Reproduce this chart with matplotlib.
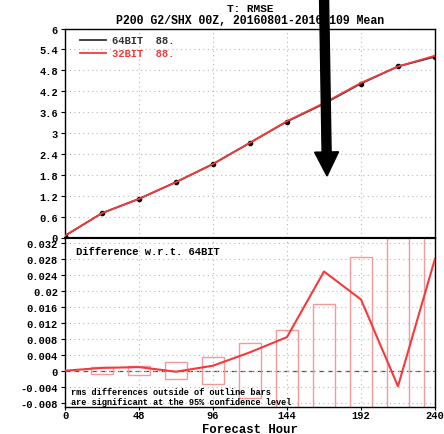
import numpy as np
import matplotlib
matplotlib.use('Agg')
import matplotlib.pyplot as plt
import matplotlib.transforms as mtransforms
from matplotlib.patches import FancyArrow

plt.rcParams['font.family'] = ['Liberation Mono', 'DejaVu Sans Mono']
plt.rcParams['font.weight'] = 'bold'

# forecast hours
hours = [0, 24, 48, 72, 96, 120, 144, 168, 192, 216, 240]

# RMSE, top panel
rmse_64 = [0.05, 0.70, 1.11, 1.59, 2.11, 2.72, 3.33, 3.84, 4.42, 4.91, 5.19]
rmse_32 = [0.05, 0.70, 1.11, 1.59, 2.11, 2.72, 3.34, 3.86, 4.44, 4.91, 5.22]

# difference 32BIT - 64BIT, bottom panel
diff_32 = [0.0, 0.0007, 0.0009, -0.00025, 0.00125, 0.0046, 0.0084, 0.0248, 0.0178, -0.0039, 0.028]
# 95% significance half-widths for outline bars
bar_hours = [24, 48, 72, 96, 120, 144, 168, 192, 216, 240]
bar_half = [0.00085, 0.0011, 0.0021, 0.0034, 0.0069, 0.0102, 0.0167, 0.0284, 0.0331, 0.0331]

legend_names = ['64BIT', '32BIT']
legend_counts = ['88.', '88.']

W, H = 444, 435
fig = plt.figure(figsize=(W / 100, H / 100), dpi=100)

left, right = 65 / W, 435 / W
ax1 = fig.add_axes([left, 1 - 238.5 / H, right - left, 209 / H])
ax2 = fig.add_axes([left, 1 - 407.7 / H, right - left, 169.2 / H])

grid_kw = dict(color='#b8b8b8', linestyle=(0, (1, 3)), linewidth=0.8)
red = '#f43a3a'

# top panel
ax1.plot(hours, rmse_64, color='#303030', lw=1.3, marker='o', ms=3, mfc='black', mec='black', zorder=3)
ax1.plot(hours, rmse_32, color=red, lw=1.3, zorder=4)
ax1.set_xlim(0, 240)
ax1.set_ylim(0, 6)
ax1.set_yticks(np.arange(0, 6.01, 0.6))
ax1.set_yticklabels(['0', '0.6', '1.2', '1.8', '2.4', '3', '3.6', '4.2', '4.8', '5.4', '6'])
ax1.set_xticks([0, 48, 96, 144, 192, 240])
ax1.tick_params(axis='x', length=0, labelbottom=False)
ax1.grid(True, **grid_kw)

# legend by hand
for i, (name, cnt, col) in enumerate(zip(legend_names, legend_counts, ['#303030', red])):
    y = 0.945 - i * 0.062
    ax1.plot([0.04, 0.112], [y, y], transform=ax1.transAxes, color=col, lw=1.3, clip_on=False)
    ax1.text(0.128, y, name + '  ' + cnt, transform=ax1.transAxes, color=col,
             fontsize=7.6, va='center', ha='left')

cx = (65 + 435) / 2 / W
fig.text(cx, 1 - 9 / H, 'T: RMSE', fontsize=8, ha='center', va='center')
fig.text(cx, 1 - 21.5 / H, 'P200 G2/SHX 00Z, 20160801-20161109 Mean', fontsize=8.3,
         ha='center', va='center')

# bottom panel
ax2.bar(bar_hours, [2 * b for b in bar_half], bottom=[-b for b in bar_half], width=14.5,
        facecolor='none', edgecolor='#f59a9a', lw=1.0, zorder=2)
ax2.axhline(0, color='#505050', lw=0.9, ls=(0, (4, 3)), zorder=1)
ax2.plot(hours, diff_32, color=red, lw=1.5, zorder=4)
ax2.set_xlim(0, 240)
ax2.set_ylim(-0.009, 0.0333)
ax2.set_yticks(np.arange(-0.008, 0.0321, 0.004))
ax2.set_yticklabels(['-0.008', '-0.004', '0', '0.004', '0.008', '0.012', '0.016', '0.02',
                     '0.024', '0.028', '0.032'])
ax2.set_xticks([0, 48, 96, 144, 192, 240])
ax2.grid(True, **grid_kw)
fig.text(cx, 1 - 430 / H, 'Forecast Hour', fontsize=8.8, ha='center', va='center')
ax2.text(0.03, 0.92, 'Difference w.r.t. 64BIT', transform=ax2.transAxes, fontsize=7.6,
         va='center', ha='left')
ax2.text(0.015, 0.062, 'rms differences outside of outline bars\nare significant at the 95% confidence level',
         transform=ax2.transAxes, fontsize=6.2, va='center', ha='left', linespacing=1.2)

for ax in (ax1, ax2):
    ax.tick_params(axis='y', length=3, width=0.8, labelsize=7.5, pad=2)
    for s in ax.spines.values():
        s.set_color('black')
        s.set_linewidth(1.0)
ax1.spines['bottom'].set_linewidth(1.5)
ax2.spines['top'].set_linewidth(1.5)
ax2.tick_params(axis='x', length=2, width=0.8, labelsize=7.5, pad=0.5)

# big black arrow drawn on top of the chart
arrow = FancyArrow(324, H + 5, 3, -(177 + 5), width=9, head_width=24, head_length=24,
                   length_includes_head=True, color='black',
                   transform=mtransforms.IdentityTransform(), zorder=10)
fig.add_artist(arrow)

fig.savefig('out.png', dpi=100)
